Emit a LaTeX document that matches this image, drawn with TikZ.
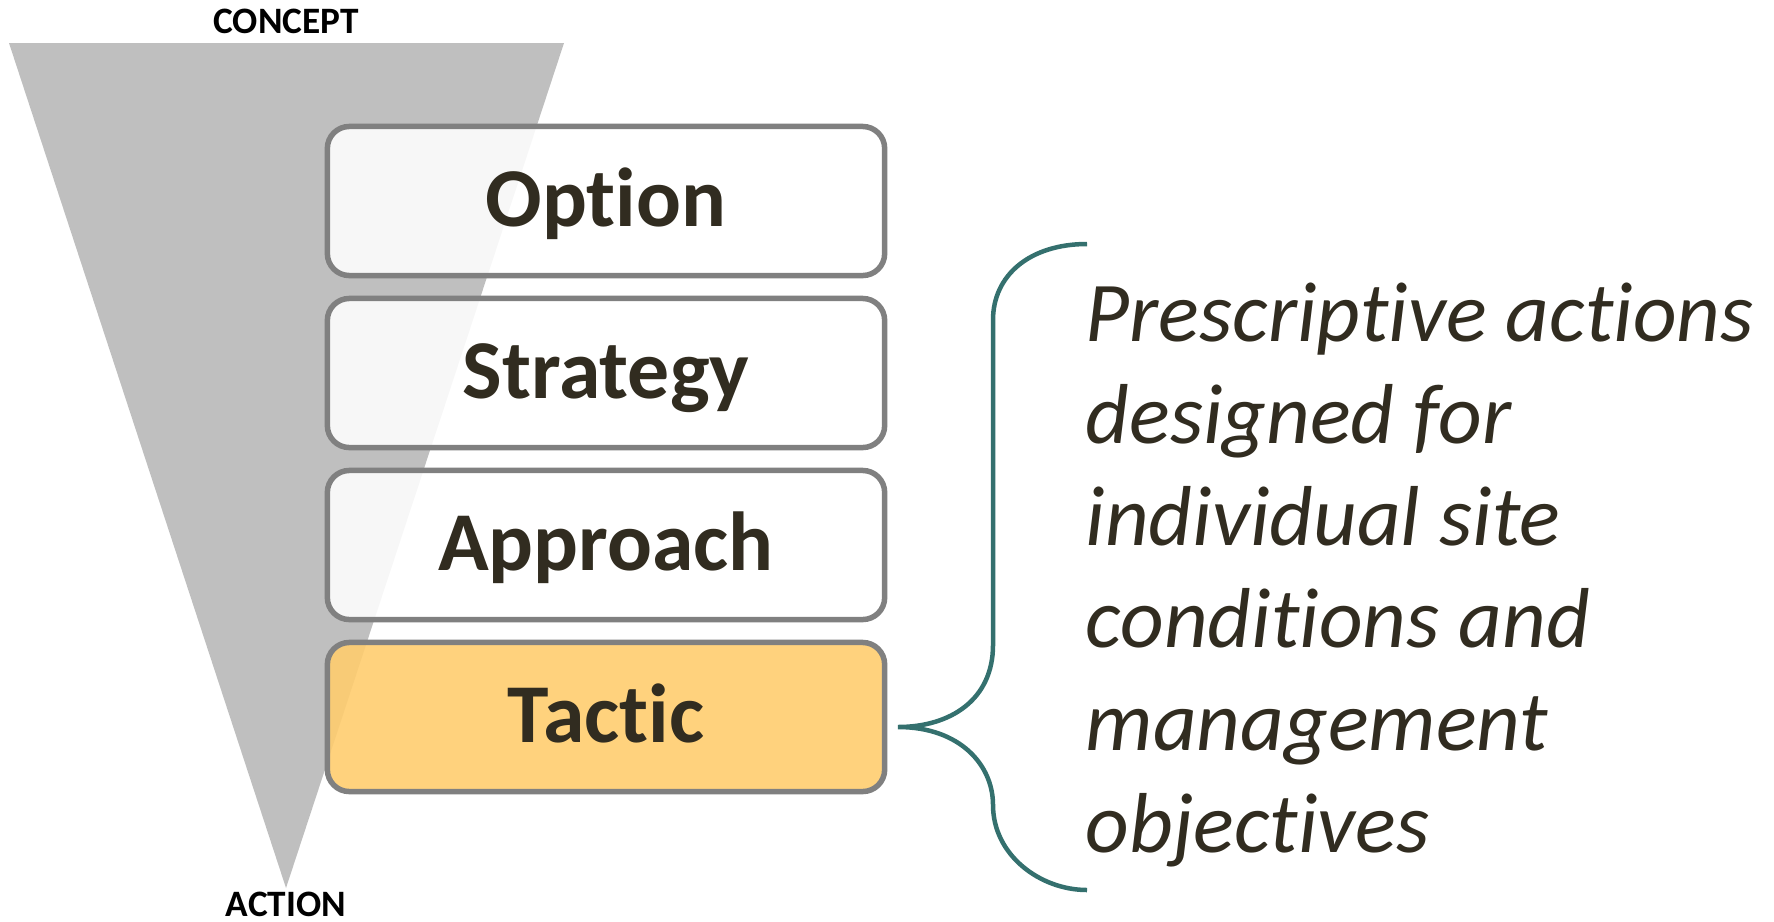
\documentclass[tikz,border=0pt]{standalone}
\usepackage{fontspec}
\setmainfont{Carlito}[Ligatures=NoCommon]
\usepackage{tikz}
\definecolor{funnelgray}{RGB}{191,191,191}
\definecolor{boxgray}{RGB}{128,128,128}
\definecolor{inkdark}{RGB}{49,44,32}
\definecolor{tacticfill}{RGB}{255,205,111}
\definecolor{bracegreen}{RGB}{52,112,110}

\begin{document}
\begin{tikzpicture}[x=0.01cm,y=-0.01cm,
  stage/.style={draw=boxgray,line width=0.055cm,rounded corners=0.22cm,
    fill=white,fill opacity=0.88,text opacity=1,
    minimum width=5.57cm,minimum height=1.49cm,inner sep=0pt,
    text height=0.5cm,text depth=0pt,text=inkdark,
    font=\bfseries\fontsize{23.8}{28}\selectfont},
  endlabel/.style={anchor=base,inner sep=0pt,font=\bfseries\fontsize{10.6}{12}\selectfont},
  desc/.style={anchor=base west,inner sep=0pt,text=inkdark,
    font=\itshape\fontsize{24.2}{29}\selectfont},
  brace/.style={draw=bracegreen,line width=0.045cm}]
\useasboundingbox (0,0) rectangle (1774,921);
%the funnel
\fill[funnelgray] (9,43) -- (564,43) -- (286,888) -- cycle;
\node[endlabel] (concept) at (286,34) {CONCEPT};
\node[endlabel] (action) at (286,916) {ACTION};
%the four levels
\node[stage] (option) at (606,201) {Option};
\node[stage] (strategy) at (606,373) {Strategy};
\node[stage] (approach) at (606,545) {Approach};
\node[stage,fill=tacticfill,fill opacity=0.9] (tactic) at (606,717) {Tactic};
%brace
\coordinate (bracetop) at (1087,244);
\coordinate (bracetip) at (898,727);
\coordinate (bracebot) at (1087,890);
\draw[brace] (bracetop) .. controls (1030,244) and (993,275) .. (993,320)
  -- (993,645) .. controls (993,700) and (950,727) .. (bracetip)
  .. controls (960,727) and (993,765) .. (993,805)
  .. controls (993,855) and (1040,890) .. (bracebot);
%description
\node[desc] (line1) at (1085,341) {Prescriptive actions};
\node[desc] (line2) at (1085,443) {designed for};
\node[desc] (line3) at (1085,545) {individual site};
\node[desc] (line4) at (1085,647) {conditions and};
\node[desc] (line5) at (1085,750) {management};
\node[desc] (line6) at (1085,852) {objectives};
\end{tikzpicture}
\end{document}
